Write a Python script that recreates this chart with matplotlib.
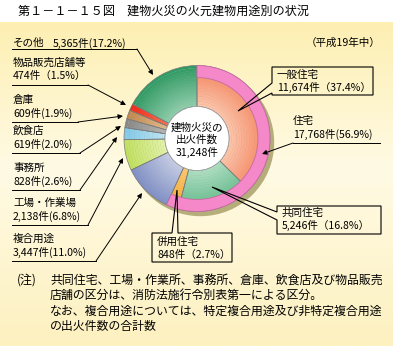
import numpy as np
import matplotlib
matplotlib.use('Agg')
import matplotlib.pyplot as plt
from matplotlib.colors import to_rgb
from matplotlib.patches import Polygon, Circle

plt.rcParams['font.family'] = ['Noto Sans CJK JP', 'DejaVu Sans']

# ---------------- data ----------------
title = '第１－１－１５図　建物火災の火元建物用途別の状況'
inner_labels = ['一般住宅', '共同住宅', '併用住宅', '複合用途', '工場・作業場',
                '事務所', '飲食店', '倉庫', '物品販売店舗等', 'その他']
inner_counts = [11674, 5246, 848, 3447, 2138, 828, 619, 609, 474, 5365]
inner_pcts = [37.4, 16.8, 2.7, 11.0, 6.8, 2.6, 2.0, 1.9, 1.5, 17.2]
housing_label = '住宅'
housing_count = 17768
housing_pct = 56.9
total_count = 31248
period = '（平成19年中）'
notes = ['共同住宅、工場・作業所、事務所、倉庫、飲食店及び物品販売',
         '店舗の区分は、消防法施行令別表第一による区分。',
         'なお、複合用途については、特定複合用途及び非特定複合用途',
         'の出火件数の合計数']

# ---------------- style ----------------
base_cols = ['#f7825e', '#5cb888', '#f8a830', '#8090c8', '#c0e060',
             '#80c8e8', '#888888', '#c08850', '#f02818', '#2f9a64']
light_cols = ['#fcc4aa', '#acdec2', '#fcc870', '#c4cce6', '#e2f2aa',
              '#bce6f6', '#b4b4b4', '#e2ba8a', '#f87050', '#8ccdac']
pink = '#f488c8'
W, H = 393, 346
CX, CY, R = 197, 138.5, 73.0
r_hole = 32 / R
r_ring = 61 / R
FS = 7.6

fig = plt.figure(figsize=(W / 100, H / 100), dpi=100)

# background
ax_bg = fig.add_axes([0, 0, 1, 1], zorder=0)
ax_bg.set_xlim(0, W); ax_bg.set_ylim(H, 0); ax_bg.axis('off')
stops_y = np.array([0.0, 0.45, 1.0])
stops_c = np.array([to_rgb('#fdefb2'), to_rgb('#fffae4'), to_rgb('#fdf1c0')])
ys = np.linspace(0, 1, 200)
grad = np.stack([np.interp(ys, stops_y, stops_c[:, i]) for i in range(3)], axis=1)
ax_bg.imshow(grad[:, None, :], extent=[0, W, H, 22], aspect='auto',
             interpolation='bilinear')

# pie axes
ax = fig.add_axes([(CX - R) / W, (H - CY - R) / H, 2 * R / W, 2 * R / H], zorder=1)
ax.patch.set_visible(False)
ax.add_patch(Circle((3.5 / R, -4.0 / R), 1.0, color='#b5ad7a', zorder=0, clip_on=False))

N = 16
edges = np.linspace(r_hole, 1.0, N + 1)
for k in range(N):
    t = k / (N - 1)
    cols = [tuple(np.array(to_rgb(l)) * (1 - t) + np.array(to_rgb(b)) * t)
            for b, l in zip(base_cols, light_cols)]
    w, _ = ax.pie(inner_counts, radius=edges[k + 1], colors=cols, startangle=90,
                  counterclock=False,
                  wedgeprops=dict(width=edges[k + 1] - edges[k] + 0.002, linewidth=0))
# segment outlines
ax.pie(inner_counts, radius=1.0, colors=['none'] * len(inner_counts), startangle=90,
       counterclock=False,
       wedgeprops=dict(width=1.0 - r_hole, linewidth=0.5, edgecolor='#7a7a7a'))
# outer housing ring
outer_vals = [housing_count] + inner_counts[3:]
ow, _ = ax.pie(outer_vals, radius=1.0, colors=[pink] * len(outer_vals), startangle=90,
               counterclock=False,
               wedgeprops=dict(width=1.0 - r_ring, linewidth=0.6, edgecolor='#c86aa4'))
for w in ow[1:]:
    w.set_visible(False)
ax.add_patch(Circle((0, 0), r_hole, facecolor='white', edgecolor='#9a9a9a', lw=0.5, zorder=5))
ax.set_xlim(-1, 1); ax.set_ylim(-1, 1); ax.set_aspect('equal')
ax.axis('off')

# overlay axes (pixel coordinates)
at = fig.add_axes([0, 0, 1, 1], zorder=3)
at.patch.set_visible(False)
at.set_xlim(0, W); at.set_ylim(H, 0); at.axis('off')

at.text(18, 11, title, fontsize=8.7, va='center', ha='left')
at.text(380, 43, period, fontsize=FS, va='center', ha='right')

# centre text
at.text(CX, 128, '建物火災の', fontsize=FS, ha='center', va='center')
at.text(CX, 140, '出火件数', fontsize=FS, ha='center', va='center')
at.text(CX, 152, f'{total_count:,}件', fontsize=FS, ha='center', va='center')

arrow = dict(arrowstyle='-|>', lw=0.7, color='black', mutation_scale=7,
             shrinkA=0, shrinkB=0)

# left labels
at.text(13, 43, 'その他', fontsize=FS, va='center')
at.text(53, 43, f'{inner_counts[9]:,}件({inner_pcts[9]}%)', fontsize=FS, va='center')
at.plot([12, 137], [49, 49], color='black', lw=0.7)
at.annotate('', xy=(153, 75), xytext=(137, 49), arrowprops=arrow)

left_items = [  # (index, y of first line, underline end x, arrow tip)
    (8, 63, 88, (126, 105)),
    (7, 100, 78, (123, 116)),
    (6, 131, 80, (121, 126)),
    (5, 168, 80, (117, 137)),
    (4, 203, 88, (123, 158)),
    (3, 239, 96, (142, 193)),
]
for idx, y0, xe, tip in left_items:
    at.text(13, y0, inner_labels[idx], fontsize=FS, va='center')
    if idx == 8:
        s2 = f'{inner_counts[idx]:,}件（{inner_pcts[idx]}%）'
    else:
        s2 = f'{inner_counts[idx]:,}件({inner_pcts[idx]}%)'
    at.text(13, y0 + 13, s2, fontsize=FS, va='center')
    yl = y0 + 22
    at.plot([12, xe], [yl, yl], color='black', lw=0.7)
    at.annotate('', xy=tip, xytext=(xe, yl), arrowprops=arrow)

# housing total
at.text(293, 121, housing_label, fontsize=FS, va='center')
at.text(293, 134, f'{housing_count:,}件({housing_pct}%)', fontsize=FS, va='center')
at.plot([293, 380], [143, 143], color='black', lw=0.7)
at.annotate('', xy=(262, 154), xytext=(293, 143), arrowprops=arrow)

# callouts
def callout(pts, lines, x, y0):
    at.add_patch(Polygon(pts, closed=True, facecolor='none', edgecolor='black', lw=0.8))
    for i, s in enumerate(lines):
        at.text(x, y0 + 12.5 * i, s, fontsize=FS, va='center')

callout([(272, 67), (373, 67), (373, 95), (272, 95), (272, 93), (238, 111), (272, 83)],
        [inner_labels[0], f'{inner_counts[0]:,}件（{inner_pcts[0]}%）'], 277, 75)
callout([(277, 206), (381, 206), (381, 234), (277, 234), (277, 220), (212, 187), (277, 212)],
        [inner_labels[1], f'{inner_counts[1]:,}件（{inner_pcts[1]}%）'], 282, 213)
callout([(152, 233), (172, 233), (177, 190), (178, 233), (232, 233), (232, 262), (152, 262)],
        [inner_labels[2], f'{inner_counts[2]:,}件（{inner_pcts[2]}%）'], 157, 242)

# notes
at.text(17, 280, '(注)', fontsize=8.6, va='center')
for i, s in enumerate(notes):
    at.text(50, 280 + 15.5 * i, s, fontsize=8.6, va='center')

fig.savefig('out.png', dpi=100)
